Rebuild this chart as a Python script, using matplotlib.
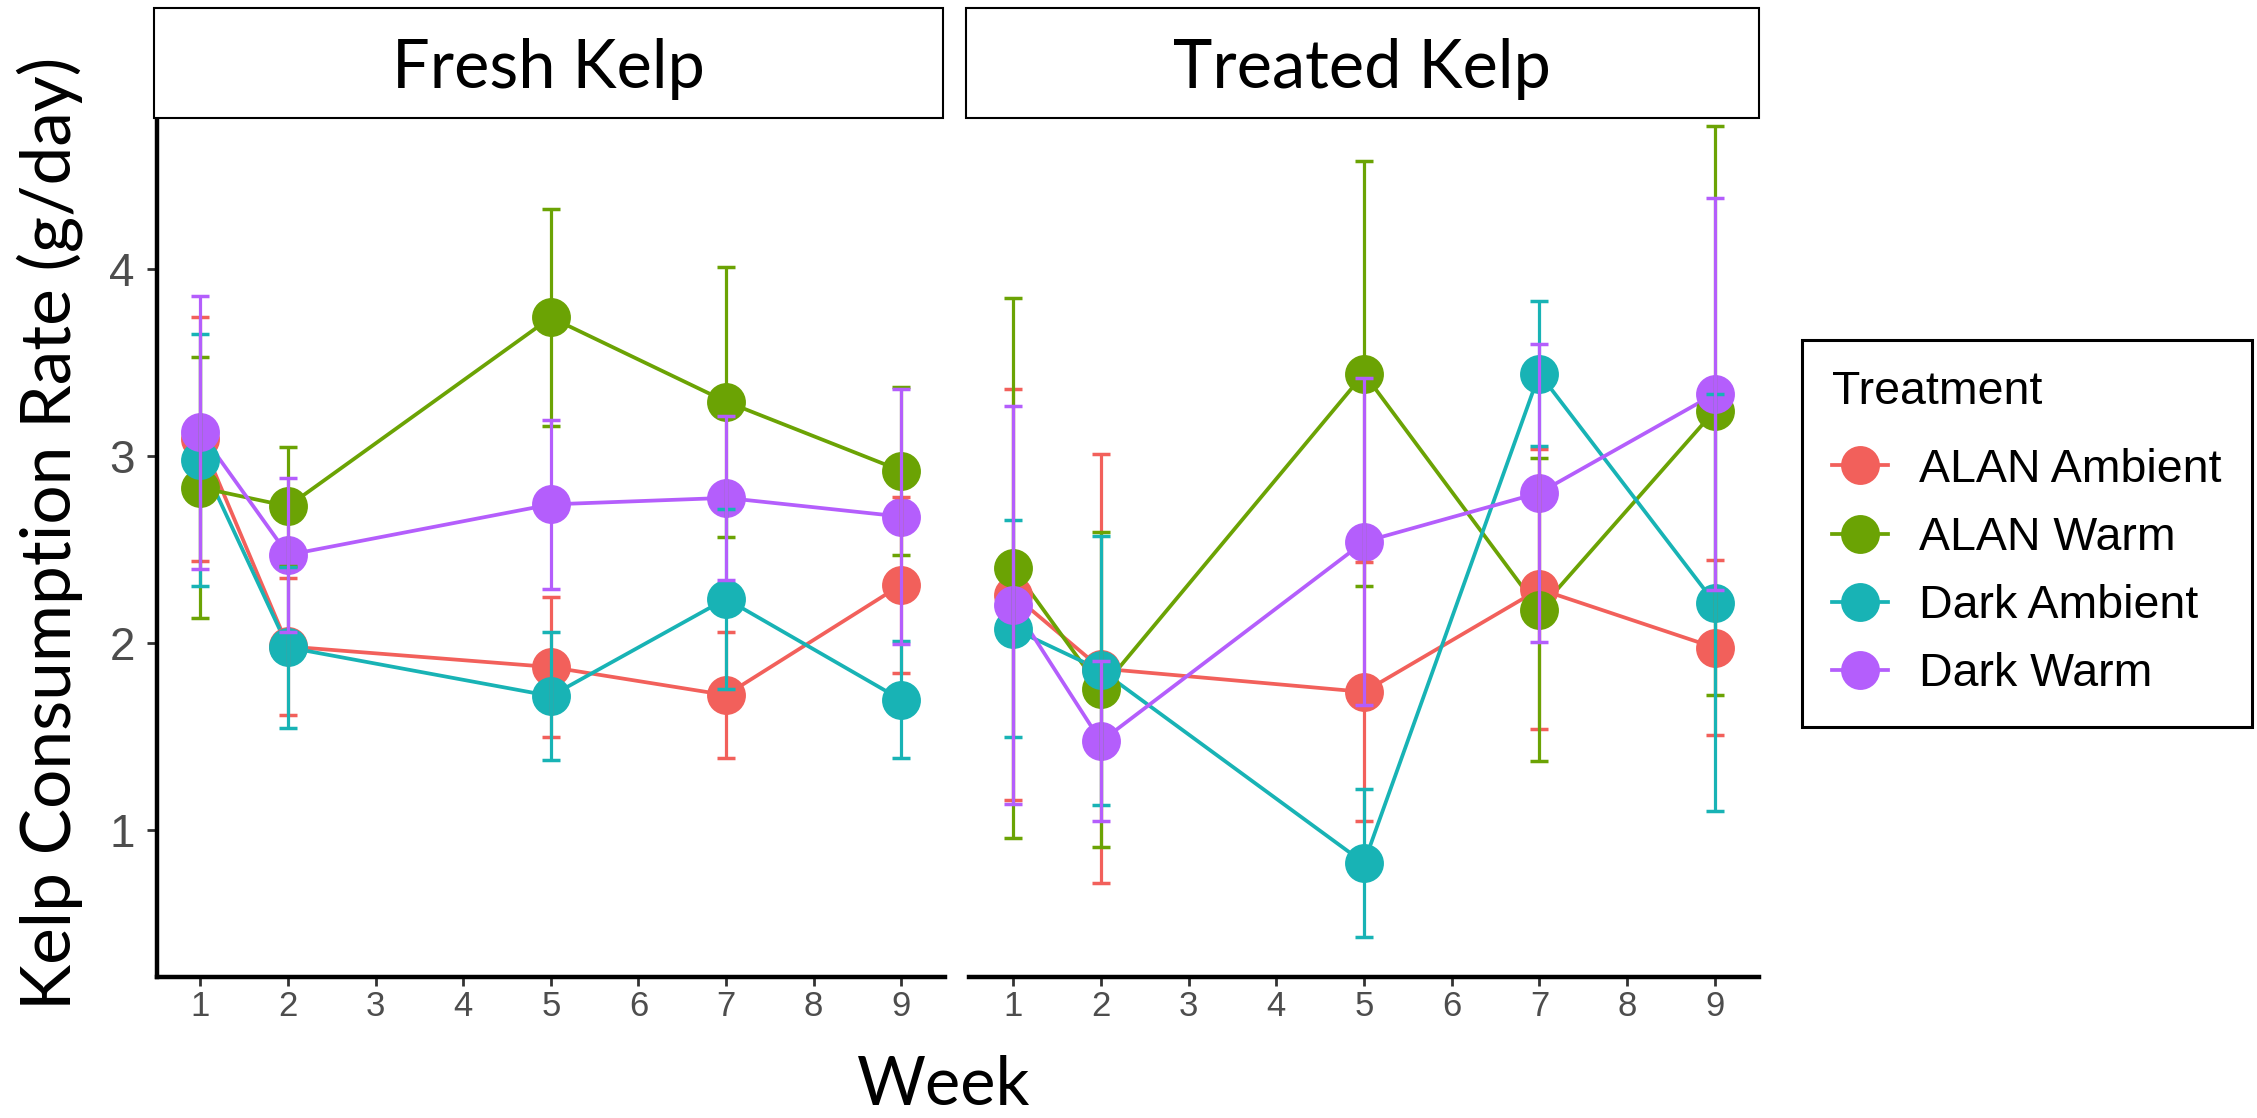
import matplotlib
matplotlib.use("Agg")
import matplotlib.pyplot as plt
from matplotlib.lines import Line2D
from matplotlib.patches import Rectangle

# ---------------- data ----------------
weeks = [1, 2, 5, 7, 9]
treatments = ["ALAN Ambient", "ALAN Warm", "Dark Ambient", "Dark Warm"]
colors = ["#F2605B", "#6BA304", "#18B3B5", "#B45EFC"]
panels = ["Fresh Kelp", "Treated Kelp"]

# mean consumption rate, rows follow `treatments`, columns follow `weeks`
fresh_mean = [
    [3.09, 1.98, 1.87, 1.72, 2.31],
    [2.83, 2.73, 3.74, 3.29, 2.92],
    [2.98, 1.975, 1.715, 2.235, 1.695],
    [3.125, 2.47, 2.74, 2.775, 2.675],
]
fresh_se = [
    [0.655, 0.365, 0.373, 0.338, 0.47],
    [0.70, 0.318, 0.58, 0.722, 0.448],
    [0.674, 0.43, 0.343, 0.48, 0.313],
    [0.73, 0.41, 0.45, 0.44, 0.68],
]
treated_mean = [
    [2.257, 1.862, 1.737, 2.287, 1.974],
    [2.40, 1.75, 3.44, 2.177, 3.242],
    [2.075, 1.853, 0.822, 3.44, 2.213],
    [2.202, 1.472, 2.54, 2.802, 3.331],
]
treated_se = [
    [1.10, 1.145, 0.693, 0.75, 0.466],
    [1.445, 0.843, 1.135, 0.81, 1.524],
    [0.579, 0.719, 0.396, 0.39, 1.115],
    [1.063, 0.428, 0.875, 0.798, 1.05],
]

x_ticks = [1, 2, 3, 4, 5, 6, 7, 8, 9]
y_ticks = [1, 2, 3, 4]

# ---------------- figure ----------------
W, H = 2257, 1118
fig = plt.figure(figsize=(W / 100, H / 100), dpi=100)
fig.patch.set_facecolor("white")

def fx(px):
    return px / W

def fy(py):
    return 1 - py / H

ax_top, ax_bot = 118, 977
axL = fig.add_axes([fx(156.7), fy(ax_bot), (945 - 156.7) / W, (ax_bot - ax_top) / H])
axR = fig.add_axes([fx(969.4), fy(ax_bot), (1758.6 - 969.4) / W, (ax_bot - ax_top) / H])

TITLE_FONT = ["Lato", "DejaVu Sans"]
TICK_FONT = ["Liberation Sans", "DejaVu Sans"]

LW_LINE = 2.7
MS = 28

for ax, means, ses, title in [(axL, fresh_mean, fresh_se, panels[0]),
                              (axR, treated_mean, treated_se, panels[1])]:
    for i, c in enumerate(colors):
        ax.plot(weeks, means[i], color=c, lw=LW_LINE, zorder=2 + i * 0.01,
                solid_capstyle="butt")
    for i, c in enumerate(colors):
        ax.plot(weeks, means[i], linestyle="none", marker="o", ms=MS,
                color=c, mec="none", zorder=3 + i * 0.01)
    for i, c in enumerate(colors):
        ax.errorbar(weeks, means[i], yerr=ses[i], fmt="none", ecolor=c,
                    elinewidth=2.3, capsize=6.5, capthick=2.5,
                    zorder=4 + i * 0.01)

    ax.set_xlim(0.5, 9.5)
    ax.set_ylim(0.212, 4.807)
    ax.set_xticks(x_ticks)
    ax.set_xticklabels([str(t) for t in x_ticks])
    for lab in ax.get_xticklabels():
        lab.set_fontfamily(TICK_FONT)
        lab.set_fontsize(25)
        lab.set_color("#4D4D4D")
    ax.tick_params(axis="x", length=6.7, width=2.0, color="#333333", pad=2.5)
    for s in ["top", "right"]:
        ax.spines[s].set_visible(False)
    ax.spines["bottom"].set_linewidth(3.2)
    ax.spines["left"].set_linewidth(3.2)
    ax.set_facecolor("white")

    # facet strip
    x0 = (154 - 156.7) / 788.3 if ax is axL else (966 - 969.4) / 789.2
    x1 = (943 - 156.7) / 788.3 if ax is axL else 1.0
    y1 = (ax_bot - 8) / (ax_bot - ax_top)
    strip = Rectangle((x0, 1.0), x1 - x0, y1 - 1.0, transform=ax.transAxes,
                      facecolor="white", edgecolor="black", lw=1.5,
                      clip_on=False, zorder=5)
    ax.add_patch(strip)
    ax.text((x0 + x1) / 2, (ax_bot - 87.5) / (ax_bot - ax_top), title,
            transform=ax.transAxes, ha="center", va="baseline",
            fontsize=48, family=TITLE_FONT, color="black", zorder=6)

axL.set_yticks(y_ticks)
axL.set_yticklabels([str(t) for t in y_ticks])
for lab in axL.get_yticklabels():
    lab.set_fontfamily(TICK_FONT)
    lab.set_fontsize(33)
    lab.set_color("#4D4D4D")
axL.tick_params(axis="y", length=7.2, width=2.0, color="#333333", pad=8.6)

axR.spines["left"].set_visible(False)
axR.tick_params(axis="y", left=False, labelleft=False)
axR.set_yticks(y_ticks)

axL.set_ylabel("Kelp Consumption Rate (g/day)", fontsize=50, family=TITLE_FONT,
               ha="center", va="center", rotation=90, rotation_mode="anchor")
axL.yaxis.set_label_coords(fx(50), fy(533), transform=fig.transFigure)

fig.supxlabel("Week", x=fx(943.5), y=fy(1105), ha="center", va="baseline",
              fontsize=48, family=TITLE_FONT)

# legend
LEG_FS = 33.5
handles = [Line2D([], [], color=c, lw=LW_LINE, marker="o", ms=MS, mec="none")
           for c in colors]
leg = fig.legend(handles, treatments, title="Treatment", loc="upper left",
                 bbox_to_anchor=(fx(1801.7), fy(340)), borderaxespad=0,
                 frameon=True, fancybox=False, edgecolor="black", framealpha=1,
                 prop={"family": TICK_FONT, "size": LEG_FS},
                 title_fontproperties={"family": TICK_FONT, "size": LEG_FS},
                 handlelength=1.2, handletextpad=0.67, labelspacing=0.52,
                 borderpad=0.65, alignment="left")
leg.get_frame().set_linewidth(2.2)
# gap between the legend title and the first key
leg._legend_box.sep = 0.6 * LEG_FS + 4.0

fig.savefig("out.png", dpi=100, facecolor="white")
